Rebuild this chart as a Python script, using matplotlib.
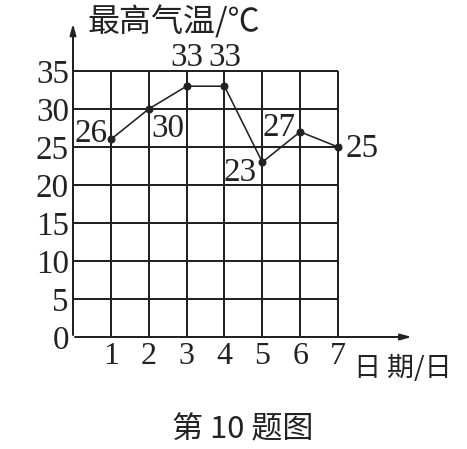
import matplotlib
matplotlib.use("Agg")
import matplotlib.pyplot as plt

plt.rcParams['font.family'] = ['Liberation Serif', 'Noto Sans CJK SC']

days = [1, 2, 3, 4, 5, 6, 7]
temps = [26, 30, 33, 33, 23, 27, 25]
y_ticks = [0, 5, 10, 15, 20, 25, 30, 35]
# label offsets (points) for each value label
label_off = [(-20, 6), (19, -20), (0, 28), (0, 28), (-22, -11), (-21, 4), (24, -2)]

fig = plt.figure(figsize=(467 / 72, 449 / 72), dpi=72)
ux = 37.86  # px per day
uy = 7.6    # px per degree
x_max, y_max = 9.0, 41.5
ax = fig.add_axes([73 / 467, (449 - 337) / 449, x_max * ux / 467, y_max * uy / 449])
ax.set_xlim(0, x_max)
ax.set_ylim(0, y_max)
for s in ax.spines.values():
    s.set_visible(False)

# grid
ax.hlines(y_ticks[1:], 0, 7, color='#222222', lw=2)
ax.vlines(days, 0, 35, color='#222222', lw=2)

# axes with arrows
ax.annotate('', xy=(x_max, 0), xytext=(0, 0),
            arrowprops=dict(arrowstyle='-|>,head_length=0.9,head_width=0.25', color='#222222', lw=2),
            annotation_clip=False)
ax.annotate('', xy=(0, y_max), xytext=(0, 0),
            arrowprops=dict(arrowstyle='-|>,head_length=0.9,head_width=0.25', color='#222222', lw=2),
            annotation_clip=False)

ax.plot(days, temps, color='#222222', lw=1.6, marker='o', ms=7, clip_on=False)

for d, t, (dx, dy) in zip(days, temps, label_off):
    ax.annotate(str(t), (d, t), xytext=(dx, dy), textcoords='offset points',
                ha='center', va='center', fontsize=33, color='#222222')

ax.set_xticks(days)
ax.set_xticklabels([str(d) for d in days], fontsize=32, color='#222222')
ax.set_yticks(y_ticks)
ax.set_yticklabels([str(v) for v in y_ticks], fontsize=33, color='#222222')
ax.tick_params(axis='both', length=0)
ax.tick_params(axis='x', pad=5)
ax.tick_params(axis='y', pad=4)

fig.text(87 / 467, 1 - 22 / 449, '最高气温/℃', fontsize=32, ha='left', va='center',
         family=['Noto Sans CJK SC'], color='#222222')
fig.text(354 / 467, 1 - 368 / 449, '日 期/日', fontsize=27, ha='left', va='center',
         family=['Noto Sans CJK SC'], color='#222222')
fig.text(243 / 467, 1 - 430 / 449, '第 10 题图', fontsize=31, ha='center', va='center',
         family=['Noto Sans CJK SC'], color='#222222')

fig.savefig('out.png', dpi=72, facecolor='white')
